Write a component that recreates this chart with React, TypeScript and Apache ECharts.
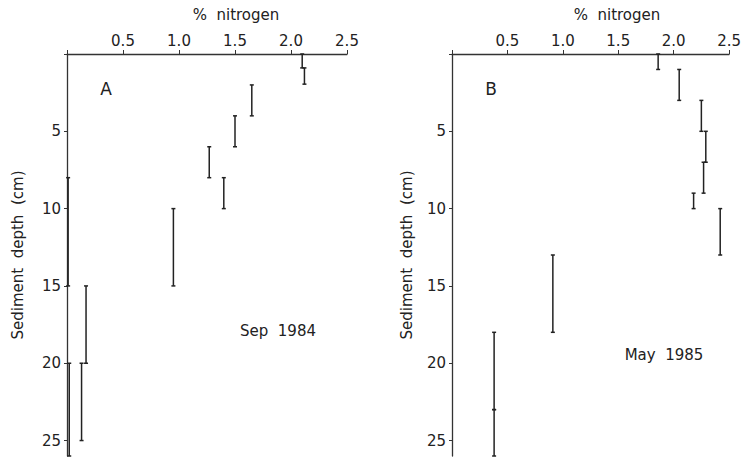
import React, { useEffect, useRef } from "react";
import * as echarts from "echarts";

// Panel A (Sep 1984): % nitrogen and depth interval (cm)
const nitrogenA = [2.10, 2.12, 1.65, 1.50, 1.27, 1.40, 0.95, 0.17, 0.13, 0.01, 0.02];
const depthTopA = [0, 0.9, 2, 4, 6, 8, 10, 15, 20, 8, 20];
const depthBottomA = [0.9, 1.95, 4, 6, 8, 10, 15, 20, 25, 15, 26];

// Panel B (May 1985)
const nitrogenB = [1.86, 2.05, 2.25, 2.29, 2.27, 2.18, 2.42, 0.91, 0.38, 0.38];
const depthTopB = [0, 1, 3, 5, 7, 9, 10, 13, 18, 23];
const depthBottomB = [1, 3, 5, 7, 9, 10, 13, 18, 23, 26];

const xTicks = [0, 0.5, 1.0, 1.5, 2.0, 2.5];
const yTicks = [5, 10, 15, 20, 25];

const FONT = "DejaVu Sans";
const INK = "#222";

function toRows(n: number[], t: number[], b: number[]) {
  return n.map((v, i) => [v, t[i], b[i]]);
}

export default function App() {
  const ref = useRef<HTMLDivElement>(null);
  useEffect(() => {
    document.body.style.margin = "0";
    const chart = echarts.init(ref.current!, null, { renderer: "svg" });
    const renderItem = (params: any, api: any) => {
      const x = api.value(0);
      const p0 = api.coord([x, api.value(1)]);
      const p1 = api.coord([x, api.value(2)]);
      const w = 2;
      const style = { stroke: INK, lineWidth: 1.5 };
      return {
        type: "group",
        children: [
          { type: "line", shape: { x1: p0[0], y1: p0[1], x2: p1[0], y2: p1[1] }, style },
          { type: "line", shape: { x1: p0[0] - w, y1: p0[1], x2: p0[0] + w, y2: p0[1] }, style },
          { type: "line", shape: { x1: p1[0] - w, y1: p1[1], x2: p1[0] + w, y2: p1[1] }, style },
        ],
      };
    };
    const xAxis = (gi: number) => ({
      type: "value",
      gridIndex: gi,
      position: "top",
      min: xTicks[0],
      max: xTicks[xTicks.length - 1],
      interval: 0.5,
      axisLine: { show: true, lineStyle: { color: "#333", width: 1.3 } },
      axisTick: { show: true, inside: false, length: 4, lineStyle: { color: "#333" } },
      splitLine: { show: false },
      axisLabel: {
        margin: 6,
        color: INK,
        fontFamily: FONT,
        fontSize: 15,
        formatter: (v: number) => (xTicks.indexOf(v) > 0 ? v.toFixed(1) : ""),
      },
    });
    const yAxis = (gi: number, gap: number) => ({
      type: "value",
      gridIndex: gi,
      inverse: true,
      min: 0,
      max: 26,
      interval: 5,
      name: "Sediment  depth  (cm)",
      nameLocation: "middle",
      nameGap: gap,
      nameRotate: 90,
      nameTextStyle: { color: INK, fontFamily: FONT, fontSize: 15 },
      axisLine: { show: true, lineStyle: { color: "#333", width: 1.3 } },
      axisTick: { show: true, inside: false, length: 3, lineStyle: { color: "#333" } },
      splitLine: { show: false },
      axisLabel: {
        margin: 6,
        color: INK,
        fontFamily: FONT,
        fontSize: 15,
        showMaxLabel: false,
        formatter: (v: number) => (yTicks.indexOf(v) >= 0 ? String(v) : ""),
      },
    });
    const txt = (text: string, x: number, y: number, size = 15) => ({
      type: "text",
      x,
      y,
      style: { text, fill: INK, font: `${size}px "${FONT}"`, align: "center", verticalAlign: "middle" },
    });
    chart.setOption({
      animation: false,
      backgroundColor: "#fff",
      grid: [
        { left: 67, top: 54, width: 280, height: 402 },
        { left: 452, top: 54, width: 278, height: 402 },
      ],
      xAxis: [xAxis(0), xAxis(1)],
      yAxis: [yAxis(0, 42), yAxis(1, 38)],
      series: [
        {
          type: "custom",
          xAxisIndex: 0,
          yAxisIndex: 0,
          renderItem,
          encode: { x: 0, y: [1, 2] },
          data: toRows(nitrogenA, depthTopA, depthBottomA),
        },
        {
          type: "custom",
          xAxisIndex: 1,
          yAxisIndex: 1,
          renderItem,
          encode: { x: 0, y: [1, 2] },
          data: toRows(nitrogenB, depthTopB, depthBottomB),
        },
      ],
      graphic: [
        txt("%  nitrogen", 236, 15),
        txt("%  nitrogen", 617, 15),
        txt("A", 106, 89, 17),
        txt("B", 491, 89, 17),
        txt("Sep  1984", 278, 331),
        txt("May  1985", 664, 355),
      ],
    });
    return () => chart.dispose();
  }, []);
  return (
    <div
      ref={ref}
      style={{ position: "absolute", left: 0, top: 0, width: 744, height: 458, background: "#fff" }}
    />
  );
}
